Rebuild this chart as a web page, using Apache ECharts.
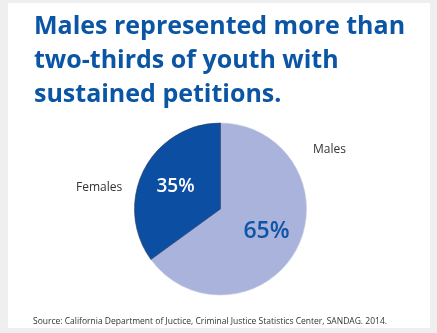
<!DOCTYPE html>
<html><head><meta charset="utf-8">
<script src="https://cdn.jsdelivr.net/npm/echarts@6/dist/echarts.min.js"></script>
<style>html,body{margin:0;padding:0;background:#efefef;}#c{width:437px;height:333px;}</style>
</head><body><div id="c"></div>
<script>
const categories = ['Males', 'Females'];
const values = [65, 35];
const titleLines = ['Males represented more than', 'two-thirds of youth with', 'sustained petitions.'];
const sourceText = 'Source: California Department of Juctice, Criminal Justice Statistics Center, SANDAG. 2014.';

const chart = echarts.init(document.getElementById('c'), null, {renderer: 'canvas'});
const colors = ['#a9b3dc', '#0b4ea2'];
const labelStyles = [
  {color: '#0f55a5', fontSize: 23, fontWeight: 600, offset: [5, 2]},
  {color: '#ffffff', fontSize: 19, fontWeight: 600, offset: [-4, -2]}
];
const namePos = [[313, 150], [76, 188]];

chart.setOption({
  backgroundColor: '#efefef',
  animation: false,
  graphic: [
    {type: 'rect', shape: {x: 8, y: 3, width: 422, height: 325}, style: {fill: '#ffffff'}, z: 0},
    ...titleLines.map((t, i) => ({
      type: 'text', left: 34, top: 14 + i * 34, z: 10,
      style: {text: t, fill: '#0b55a5', font: 'bold 25px "Open Sans"'}
    })),
    {type: 'text', left: 33, top: 317, z: 10,
      style: {text: sourceText, fill: '#333333', font: '8.5px "Open Sans"'}},
    ...categories.map((c, i) => ({
      type: 'text', x: namePos[i][0], y: namePos[i][1], z: 10,
      style: {text: c, fill: '#333333', font: '12px "Open Sans"', verticalAlign: 'middle'}
    }))
  ],
  series: [{
    type: 'pie',
    center: [220.5, 209],
    radius: 86,
    startAngle: 90,
    clockwise: true,
    z: 5,
    data: categories.map((c, i) => ({
      name: c, value: values[i],
      itemStyle: {color: colors[i], borderColor: i === 1 ? '#2a3a5a' : '#c8cce0', borderWidth: 0.6},
      label: {
        show: true, position: 'inside', formatter: '{c}%',
        color: labelStyles[i].color, fontSize: labelStyles[i].fontSize,
        fontWeight: labelStyles[i].fontWeight, fontFamily: 'Open Sans',
        offset: labelStyles[i].offset
      }
    })),
    labelLine: {show: false},
    emphasis: {disabled: true}
  }]
});
</script></body></html>
